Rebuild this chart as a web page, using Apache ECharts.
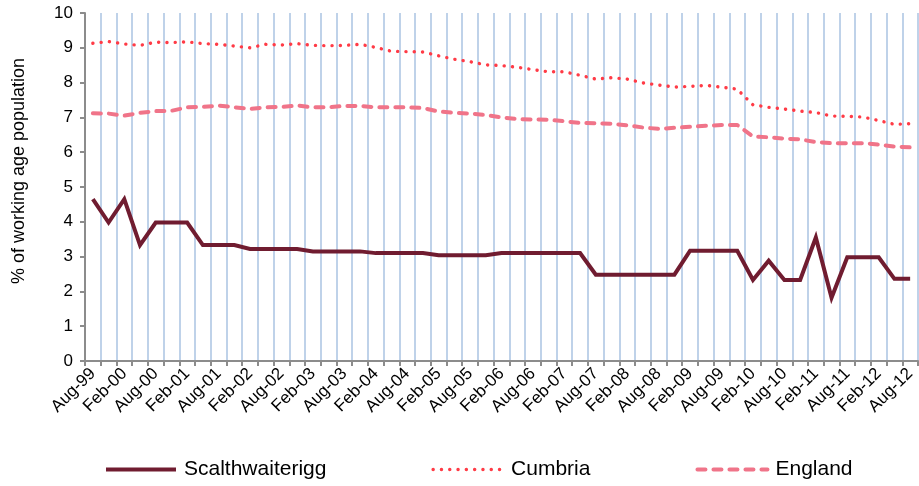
<!DOCTYPE html>
<html>
<head>
<meta charset="utf-8">
<script src="https://cdn.jsdelivr.net/npm/echarts@6/dist/echarts.min.js"></script>
<style>
  html, body { margin: 0; padding: 0; background: #fff; }
  #chart { width: 919px; height: 486px; }
</style>
</head>
<body>
<div id="chart"></div>
<script>
  // quarterly periods, Aug-99 .. Aug-12
  var periods = [
    'Aug-99', 'Nov-99', 'Feb-00', 'May-00', 'Aug-00', 'Nov-00', 'Feb-01', 'May-01',
    'Aug-01', 'Nov-01', 'Feb-02', 'May-02', 'Aug-02', 'Nov-02', 'Feb-03', 'May-03',
    'Aug-03', 'Nov-03', 'Feb-04', 'May-04', 'Aug-04', 'Nov-04', 'Feb-05', 'May-05',
    'Aug-05', 'Nov-05', 'Feb-06', 'May-06', 'Aug-06', 'Nov-06', 'Feb-07', 'May-07',
    'Aug-07', 'Nov-07', 'Feb-08', 'May-08', 'Aug-08', 'Nov-08', 'Feb-09', 'May-09',
    'Aug-09', 'Nov-09', 'Feb-10', 'May-10', 'Aug-10', 'Nov-10', 'Feb-11', 'May-11',
    'Aug-11', 'Nov-11', 'Feb-12', 'May-12', 'Aug-12'
  ];

  var scalthwaiterigg = [
    4.65, 3.98, 4.65, 3.33, 3.98, 3.98, 3.98, 3.33, 3.33, 3.33,
    3.22, 3.22, 3.22, 3.22, 3.15, 3.15, 3.15, 3.15, 3.10, 3.10,
    3.10, 3.10, 3.04, 3.04, 3.04, 3.04, 3.10, 3.10, 3.10, 3.10,
    3.10, 3.10, 2.48, 2.48, 2.48, 2.48, 2.48, 2.48, 3.17, 3.17,
    3.17, 3.17, 2.33, 2.88, 2.33, 2.33, 3.55, 1.82, 2.98, 2.98,
    2.98, 2.36, 2.36
  ];

  var cumbria = [
    9.13, 9.18, 9.11, 9.07, 9.16, 9.15, 9.17, 9.12, 9.10, 9.05,
    9.00, 9.10, 9.08, 9.12, 9.07, 9.06, 9.07, 9.10, 9.01, 8.90,
    8.89, 8.88, 8.77, 8.67, 8.60, 8.51, 8.49, 8.44, 8.37, 8.31,
    8.31, 8.21, 8.10, 8.14, 8.10, 7.99, 7.93, 7.87, 7.89, 7.92,
    7.87, 7.81, 7.36, 7.29, 7.24, 7.18, 7.14, 7.04, 7.03, 7.01,
    6.91, 6.80, 6.82
  ];

  var england = [
    7.12, 7.11, 7.05, 7.13, 7.18, 7.19, 7.29, 7.30, 7.34, 7.29,
    7.24, 7.29, 7.30, 7.34, 7.29, 7.29, 7.33, 7.33, 7.29, 7.29,
    7.29, 7.27, 7.17, 7.13, 7.11, 7.07, 7.00, 6.95, 6.94, 6.93,
    6.89, 6.84, 6.83, 6.82, 6.77, 6.71, 6.67, 6.70, 6.73, 6.76,
    6.78, 6.78, 6.45, 6.43, 6.39, 6.37, 6.29, 6.26, 6.26, 6.26,
    6.22, 6.16, 6.14
  ];

  var FONT = "'Liberation Sans', Arial, sans-serif";

  var STYLES = {
    Scalthwaiterigg: { color: '#701c30', width: 4, type: 'solid', cap: 'butt', join: 'miter' },
    Cumbria: { color: '#ff3b46', width: 3.4, type: [0.1, 8.2], cap: 'round' },
    England: { color: '#f07489', width: 4, type: [8, 8], cap: 'round' }
  };

  var chart = echarts.init(document.getElementById('chart'), null, { renderer: 'canvas' });

  function lineSeries(name, data, z) {
    return {
      name: name,
      type: 'line',
      data: data,
      symbol: 'none',
      z: z,
      color: STYLES[name].color,
      lineStyle: STYLES[name]
    };
  }

  var option = {
    backgroundColor: '#ffffff',
    animation: false,
    textStyle: { fontFamily: FONT },
    grid: { left: 85, right: 1, top: 13, bottom: 125, containLabel: false },
    legend: {
      left: 99,
      top: 454,
      itemWidth: 70,
      itemHeight: 16,
      itemGap: 105,
      itemStyle: { opacity: 0 },
      textStyle: { fontFamily: FONT, fontSize: 21, color: '#000', padding: [0, 0, 0, 3] },
      data: ['Scalthwaiterigg', 'Cumbria', 'England'].map(function (n) {
        return { name: n, lineStyle: STYLES[n] };
      })
    },
    xAxis: {
      type: 'category',
      data: periods,
      boundaryGap: true,
      axisLine: { lineStyle: { color: '#8c8c8c', width: 2 } },
      axisTick: { show: true, interval: 0, length: 5, lineStyle: { color: '#8c8c8c', width: 2 } },
      axisLabel: {
        interval: 1,
        rotate: 45,
        margin: 10,
        fontFamily: FONT,
        fontSize: 17,
        color: '#000'
      },
      splitLine: {
        show: true,
        interval: 0,
        lineStyle: { color: '#bfd2e9', width: 2 }
      }
    },
    yAxis: {
      type: 'value',
      min: 0,
      max: 10,
      interval: 1,
      axisLine: { show: true, lineStyle: { color: '#8c8c8c', width: 2 } },
      axisTick: { show: true, length: 5, lineStyle: { color: '#8c8c8c', width: 2 } },
      axisLabel: { fontFamily: FONT, fontSize: 17, color: '#000', margin: 12 },
      splitLine: { show: false }
    },
    graphic: [{
      type: 'text',
      x: 19,
      y: 171,
      rotation: Math.PI / 2,
      style: {
        text: '% of working age population',
        font: '18px ' + FONT,
        fill: '#000',
        align: 'center',
        verticalAlign: 'middle'
      }
    }],
    series: [
      lineSeries('Scalthwaiterigg', scalthwaiterigg, 5),
      lineSeries('Cumbria', cumbria, 4),
      lineSeries('England', england, 3)
    ]
  };

  chart.setOption(option);
</script>
</body>
</html>
